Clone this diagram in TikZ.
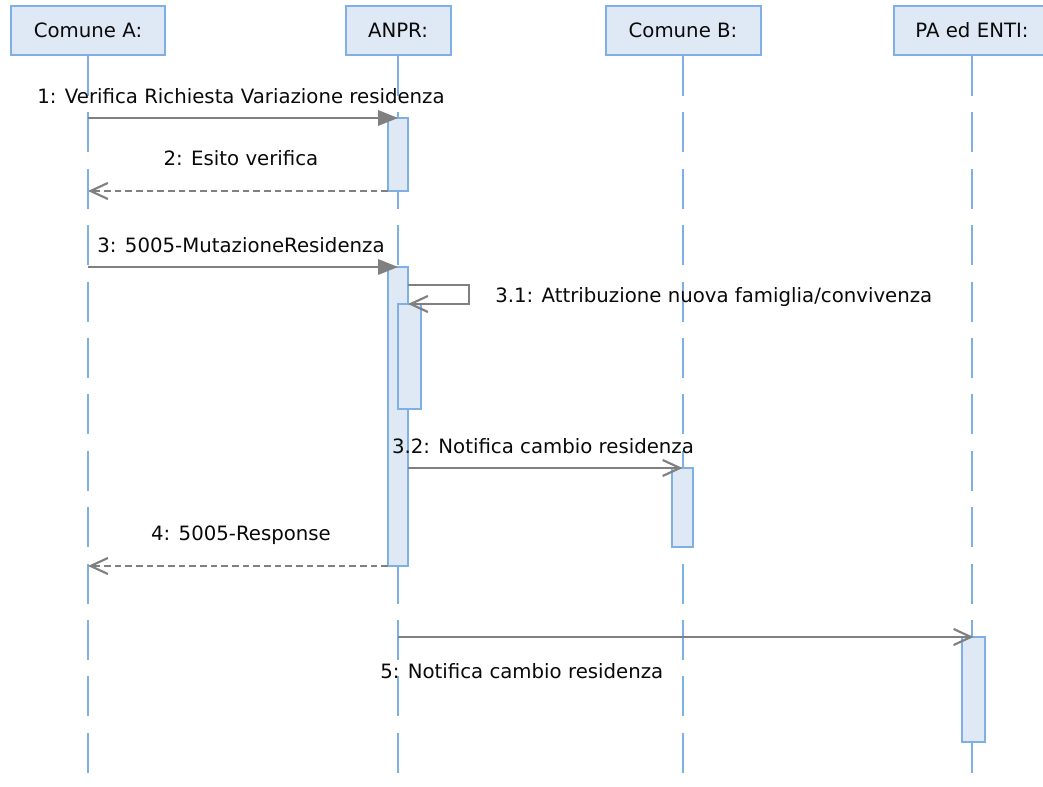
\documentclass[tikz,border=0pt]{standalone}
\usepackage{fontspec}
\setmainfont{DejaVu Sans}
\usetikzlibrary{arrows.meta,fit,positioning}

\definecolor{lifeblue}{HTML}{7EB0E6}
\definecolor{barfill}{HTML}{DFE9F5}
\definecolor{msggray}{HTML}{808080}
\definecolor{txtgray}{HTML}{0A0A0A}

\tikzset{
  header/.style={draw=lifeblue, fill=barfill, line width=1.5pt, minimum height=36.75pt, inner sep=0pt, text=txtgray},
  lifeline/.style={draw=lifeblue, line width=1.5pt, dash pattern=on 30pt off 12.3pt},
  actbar/.style={draw=lifeblue, fill=barfill, line width=1.5pt, inner sep=0pt, outer sep=0pt},
  sync/.style={draw=msggray, line width=1.6pt, -{Triangle[length=15pt,width=11.5pt]}},
  async/.style={draw=msggray, line width=1.6pt, -{Straight Barb[length=13pt,width=12pt]}},
  reply/.style={async, dash pattern=on 5pt off 3pt},
  msglabel/.style={anchor=base, text=txtgray, inner sep=0pt},
}

\begin{document}
\begin{tikzpicture}[x=0.75pt,y=-0.75pt, font=\fontsize{14.8pt}{17pt}\selectfont]
  \useasboundingbox (0,0) rectangle (1043,787);
  \clip (0,0) rectangle (1043,787);
  \fill[white] (0,0) rectangle (1043,787);

  % participants
  \node[header, minimum width=115.5pt] (ca) at (88,30.5) {Comune A:};
  \node[header, minimum width=78.75pt] (anpr) at (398,30.5) {ANPR:};
  \node[header, minimum width=116.25pt] (cb) at (683,30.5) {Comune B:};
  \node[header, minimum width=117pt] (pa) at (972,30.5) {PA ed ENTI:};

  % lifelines
  \foreach \p in {ca,anpr,cb,pa}
    \draw[lifeline] (\p.south) -- (\p.south |- 0,790);

  % activations
  \node[actbar, fit={(388,118) (408,191)}] (act1) {};
  \node[actbar, fit={(388,267) (408,566)}] (act2) {};
  \node[actbar, fit={(398,304) (421,409)}] (act3) {};
  \node[actbar, fit={(672,468) (693,547)}] (actb) {};
  \node[actbar, fit={(962,637) (985,742)}] (actp) {};

  % messages
  \draw[sync] (ca.south |- act1.north) -- (act1.north);
  \draw[reply] (act1.south west) -- (ca.south |- act1.south);
  \draw[sync] (ca.south |- act2.north) -- (act2.north);
  \draw[async] ([yshift=-13.5pt]act2.north east) -| ([xshift=45.75pt]act3.north -| act2.east) -- (act3.north -| act2.east);
  \draw[async] (act2.east |- actb.north) -- (actb.north);
  \draw[reply] (act2.south west) -- (ca.south |- act2.south);
  \draw[async] (anpr.south |- actp.north) -- (actp.north);

  % labels
  \node[msglabel] (l1) at (241,104) {1: Verifica Richiesta Variazione residenza};
  \node[msglabel] (l2) at (241,166) {2: Esito verifica};
  \node[msglabel] (l3) at (241,253) {3: 5005-MutazioneResidenza};
  \node[msglabel, anchor=base west] (l31) at (495,303) {3.1: Attribuzione nuova famiglia/convivenza};
  \node[msglabel] (l32) at (543,454) {3.2: Notifica cambio residenza};
  \node[msglabel] (l4) at (241,541) {4: 5005-Response};
  \node[msglabel, anchor=base west] (l5) at (380,678) {5: Notifica cambio residenza};
\end{tikzpicture}
\end{document}
